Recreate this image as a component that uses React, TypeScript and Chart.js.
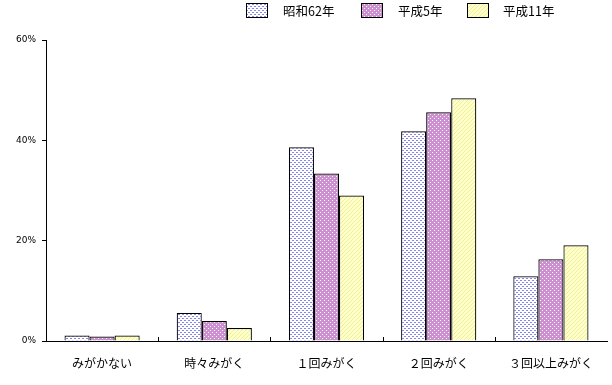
import React, { useEffect, useRef } from "react";
import { Chart, registerables } from "chart.js";

Chart.register(...registerables);

const categories = ["みがかない", "時々みがく", "１回みがく", "２回みがく", "３回以上みがく"];
const seriesNames = ["昭和62年", "平成5年", "平成11年"];
const showa62 = [1.1, 5.6, 38.6, 41.8, 12.9];
const heisei5 = [0.9, 4.0, 33.4, 45.6, 16.3];
const heisei11 = [1.1, 2.6, 29.0, 48.4, 19.1];
const yTicks = [0, 20, 40, 60];

function makePattern(kind: number): CanvasPattern | string {
  const c = document.createElement("canvas");
  c.width = 4;
  c.height = 4;
  const g = c.getContext("2d");
  if (!g) return "#fff";
  if (kind === 0) {
    g.fillStyle = "#ffffff";
    g.fillRect(0, 0, 4, 4);
    g.fillStyle = "#8585f2";
    g.fillRect(0, 0, 2, 1);
    g.fillRect(2, 2, 2, 1);
  } else if (kind === 1) {
    g.fillStyle = "#cc90d0";
    g.fillRect(0, 0, 4, 4);
    g.fillStyle = "#ffffff";
    g.fillRect(0, 0, 1, 1);
    g.fillRect(2, 2, 1, 1);
  } else {
    g.fillStyle = "#ffffcc";
    g.fillRect(0, 0, 4, 4);
    g.fillStyle = "#f0f09a";
    g.fillRect(3, 0, 1, 1);
    g.fillRect(2, 1, 1, 1);
    g.fillRect(1, 2, 1, 1);
    g.fillRect(0, 3, 1, 1);
  }
  const p = g.createPattern(c, "repeat");
  return p || "#fff";
}

export default function App() {
  const ref = useRef<HTMLCanvasElement | null>(null);
  useEffect(() => {
    if (!ref.current) return;
    const fills = [makePattern(0), makePattern(1), makePattern(2)];
    const data = [showa62, heisei5, heisei11];
    const legendPos = [
      { box: 246, text: 283 },
      { box: 361, text: 398 },
      { box: 467, text: 503 },
    ];
    const customDraw = {
      id: "customDraw",
      afterDraw(chart: any) {
        const ctx = chart.ctx;
        const xs = chart.scales.x;
        const area = chart.chartArea;
        ctx.save();
        ctx.strokeStyle = "#000";
        ctx.lineWidth = 1;
        const n = categories.length;
        for (let i = 1; i < n; i++) {
          const x = Math.round((xs.getPixelForValue(i - 1) + xs.getPixelForValue(i)) / 2) + 0.5;
          ctx.beginPath();
          ctx.moveTo(x, area.bottom);
          ctx.lineTo(x, area.bottom - 4);
          ctx.stroke();
        }
        ctx.font = "12.5px 'Noto Sans CJK JP'";
        ctx.textBaseline = "middle";
        ctx.textAlign = "left";
        for (let i = 0; i < 3; i++) {
          const p = legendPos[i];
          ctx.fillStyle = fills[i];
          ctx.fillRect(p.box, 3, 21, 14);
          ctx.strokeRect(p.box + 0.5, 3.5, 21, 14);
          ctx.fillStyle = "#000";
          ctx.fillText(seriesNames[i], p.text, 11);
        }
        ctx.restore();
      },
    };
    const chart = new Chart(ref.current, {
      type: "bar",
      data: {
        labels: categories,
        datasets: data.map((d, i) => ({
          label: seriesNames[i],
          data: d,
          backgroundColor: fills[i] as any,
          borderColor: "#000",
          borderWidth: 1.2,
          categoryPercentage: 0.67,
          barPercentage: 1,
        })),
      },
      options: {
        animation: false,
        responsive: false,
        maintainAspectRatio: false,
        layout: { padding: { top: 40, right: 5, left: 0, bottom: 0 } },
        plugins: { legend: { display: false }, tooltip: { enabled: false } },
        scales: {
          x: {
            grid: { display: false },
            border: { color: "#000", width: 1 },
            ticks: {
              color: "#000",
              font: { family: "'Noto Sans CJK JP'", size: 12 },
              padding: 7,
              maxRotation: 0,
            },
            afterFit(s: any) {
              s.height = 44;
            },
          },
          y: {
            min: 0,
            max: 60,
            afterBuildTicks(s: any) {
              s.ticks = yTicks.map((v) => ({ value: v }));
            },
            grid: {
              display: true,
              drawOnChartArea: false,
              drawTicks: true,
              tickLength: 4,
              color: "#000",
            },
            border: { color: "#000", width: 1 },
            ticks: {
              color: "#000",
              font: { family: "'DejaVu Sans'", size: 9 },
              padding: 6,
              callback: (v: any) => v + "%",
            },
            afterFit(s: any) {
              s.width = 46;
            },
          },
        },
      },
      plugins: [customDraw],
    });
    return () => chart.destroy();
  }, []);
  return (
    <div style={{ position: "absolute", left: 0, top: 0, width: 612, height: 385, background: "#fff" }}>
      <canvas ref={ref} width={612} height={385} style={{ width: 612, height: 385 }} />
    </div>
  );
}
